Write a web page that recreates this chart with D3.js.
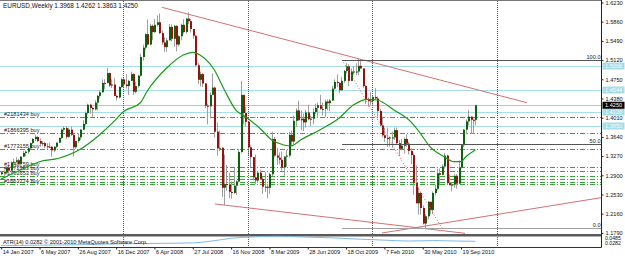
<!DOCTYPE html>
<html>
<head>
<meta charset="utf-8">
<script src="https://cdn.jsdelivr.net/npm/d3@7"></script>
<style>
  body { margin: 0; background: #fff; }
  text { font-family: "Liberation Sans", Arial, sans-serif; }
</style>
</head>
<body>
<svg id="chart" width="625" height="258"></svg>
<script>
// weekly bars, first bar = week of 14 Jan 2007
const firstWeek = new Date(2007, 0, 14);
const opens = [1.2920,1.2960,1.2950,1.3050,1.2990,1.3140,1.3160,1.3190,1.3120,1.3260,
1.3330,1.3355,1.3420,1.3520,1.3600,1.3640,1.3560,1.3510,1.3520,1.3460,
1.3450,1.3450,1.3380,1.3450,1.3530,1.3620,1.3780,1.3810,1.3640,1.3780,
1.3680,1.3440,1.3560,1.3630,1.3780,1.3890,1.4100,1.4260,1.4200,1.4170,
1.4300,1.4430,1.4500,1.4680,1.4680,1.4870,1.4630,1.4650,1.4430,1.4400,
1.4600,1.4750,1.4650,1.4620,1.4720,1.4850,1.4510,1.4620,1.4820,1.5180,
1.5360,1.5620,1.5420,1.5780,1.5660,1.5800,1.5850,1.5640,1.5460,1.5370,
1.5500,1.5760,1.5530,1.5780,1.5420,1.5580,1.5800,1.5660,1.5920,1.5870,
1.5720,1.5590,1.5020,1.4740,1.4850,1.4670,1.4240,1.4230,1.4450,1.4590,
1.3740,1.3420,1.3430,1.2660,1.2730,1.2720,1.2580,1.2560,1.2700,1.2780,
1.3350,1.4450,1.4100,1.3930,1.3440,1.3250,1.2860,1.2800,1.2950,1.2830,
1.2680,1.2680,1.2660,1.2920,1.3600,1.3280,1.3240,1.3200,1.3050,1.3260,
1.3280,1.3680,1.3550,1.3950,1.4150,1.3960,1.3990,1.3920,1.4110,1.3980,
1.3990,1.4120,1.4200,1.4250,1.4180,1.4180,1.4320,1.4290,1.4340,1.4570,
1.4700,1.4680,1.4540,1.4720,1.4910,1.5000,1.4720,1.4900,1.4900,1.4900,
1.5010,1.4960,1.4620,1.4350,1.4340,1.4330,1.4410,1.4380,1.4140,1.3860,
1.3670,1.3620,1.3610,1.3630,1.3630,1.3770,1.3520,1.3410,1.3470,1.3600,
1.3510,1.3370,1.3290,1.2750,1.2360,1.2560,1.2270,1.1970,1.2110,1.2390,
1.2230,1.2560,1.2640,1.2940,1.2910,1.3070,1.3280,1.2750,1.2710,1.2720,
1.2890,1.2740,1.3050,1.3480,1.3780,1.3940,1.4030,1.3970,1.3968];
const highs = [1.2990,1.3000,1.3070,1.3060,1.3170,1.3220,1.3250,1.3220,1.3270,1.3370,
1.3380,1.3430,1.3530,1.3620,1.3680,1.3650,1.3610,1.3560,1.3540,1.3520,
1.3530,1.3460,1.3460,1.3530,1.3630,1.3800,1.3840,1.3850,1.3820,1.3840,
1.3700,1.3560,1.3710,1.3790,1.3960,1.4130,1.4280,1.4280,1.4220,1.4350,
1.4450,1.4530,1.4750,1.4750,1.4967,1.4880,1.4750,1.4780,1.4450,1.4620,
1.4780,1.4790,1.4850,1.4740,1.4900,1.4870,1.4700,1.4840,1.5240,1.5420,
1.5630,1.5905,1.5820,1.5810,1.5910,1.5980,1.6019,1.5690,1.5560,1.5550,
1.5810,1.5810,1.5800,1.5790,1.5600,1.5820,1.5910,1.5930,1.6038,1.5910,
1.5720,1.5600,1.5060,1.4900,1.4870,1.4680,1.4280,1.4500,1.4865,1.4610,
1.3920,1.3760,1.3440,1.3300,1.3100,1.2950,1.2780,1.3050,1.2800,1.3410,
1.4720,1.4450,1.4220,1.3930,1.3480,1.3250,1.3300,1.2980,1.3010,1.2870,
1.2960,1.2730,1.2950,1.3740,1.3640,1.3430,1.3340,1.3360,1.3270,1.3390,
1.3740,1.3760,1.4050,1.4190,1.4340,1.4150,1.4090,1.4160,1.4260,1.4050,
1.4190,1.4280,1.4300,1.4450,1.4300,1.4360,1.4360,1.4370,1.4620,1.4750,
1.4845,1.4700,1.4800,1.4930,1.5060,1.5040,1.4960,1.5010,1.5060,1.5145,
1.5140,1.4960,1.4640,1.4400,1.4510,1.4440,1.4580,1.4420,1.4180,1.4030,
1.3820,1.3820,1.3650,1.3740,1.3820,1.3820,1.3580,1.3600,1.3630,1.3690,
1.3540,1.3420,1.3330,1.3090,1.2670,1.2580,1.2320,1.2150,1.2400,1.2390,
1.2590,1.2720,1.3030,1.3030,1.3110,1.3330,1.3300,1.2910,1.2750,1.2920,
1.2920,1.3190,1.3490,1.3790,1.3980,1.4160,1.4040,1.3990,1.4262];
const lows = [1.2900,1.2880,1.2930,1.2920,1.2940,1.3070,1.3140,1.3080,1.3100,1.3250,
1.3270,1.3310,1.3400,1.3500,1.3560,1.3540,1.3450,1.3460,1.3420,1.3410,
1.3430,1.3260,1.3350,1.3420,1.3520,1.3600,1.3740,1.3600,1.3620,1.3660,
1.3260,1.3410,1.3530,1.3580,1.3770,1.3860,1.4070,1.4090,1.4030,1.4150,
1.4150,1.4380,1.4490,1.4560,1.4670,1.4600,1.4580,1.4430,1.4340,1.4380,
1.4580,1.4600,1.4570,1.4450,1.4720,1.4450,1.4480,1.4580,1.4800,1.5110,
1.5320,1.5400,1.5400,1.5500,1.5640,1.5770,1.5620,1.5410,1.5280,1.5280,
1.5500,1.5480,1.5380,1.5290,1.5380,1.5500,1.5630,1.5630,1.5810,1.5650,
1.5530,1.5000,1.4660,1.4610,1.4600,1.4200,1.3880,1.4000,1.4450,1.3630,
1.3280,1.3370,1.2480,1.2330,1.2600,1.2460,1.2450,1.2540,1.2520,1.2760,
1.3330,1.3880,1.3840,1.3290,1.3050,1.2800,1.2730,1.2750,1.2820,1.2540,
1.2580,1.2455,1.2540,1.2880,1.3250,1.3100,1.3110,1.2990,1.2890,1.3060,
1.3240,1.3460,1.3500,1.3830,1.3960,1.3770,1.3750,1.3820,1.3960,1.3850,
1.3880,1.4080,1.4010,1.4160,1.4050,1.4030,1.4150,1.4140,1.4330,1.4550,
1.4600,1.4480,1.4520,1.4680,1.4860,1.4620,1.4710,1.4840,1.4830,1.4830,
1.4950,1.4580,1.4270,1.4220,1.4260,1.4260,1.4350,1.4030,1.3850,1.3640,
1.3540,1.3440,1.3450,1.3430,1.3580,1.3500,1.3270,1.3380,1.3320,1.3450,
1.3300,1.3110,1.2520,1.2360,1.2140,1.2150,1.1950,1.1876,1.2050,1.2150,
1.2150,1.2510,1.2610,1.2700,1.2900,1.3030,1.2720,1.2710,1.2590,1.2660,
1.2640,1.2730,1.3030,1.3440,1.3690,1.3860,1.3700,1.3700,1.3863];
const closes = [1.2960,1.2950,1.3050,1.2990,1.3140,1.3160,1.3190,1.3120,1.3260,1.3330,
1.3355,1.3420,1.3520,1.3600,1.3640,1.3560,1.3510,1.3520,1.3460,1.3450,
1.3450,1.3380,1.3450,1.3530,1.3620,1.3780,1.3810,1.3640,1.3780,1.3680,
1.3440,1.3560,1.3630,1.3780,1.3890,1.4100,1.4260,1.4200,1.4170,1.4300,
1.4430,1.4500,1.4680,1.4680,1.4870,1.4630,1.4650,1.4430,1.4400,1.4600,
1.4750,1.4650,1.4620,1.4720,1.4850,1.4510,1.4620,1.4820,1.5180,1.5360,
1.5620,1.5420,1.5780,1.5660,1.5800,1.5850,1.5640,1.5460,1.5370,1.5500,
1.5760,1.5530,1.5780,1.5420,1.5580,1.5800,1.5660,1.5920,1.5870,1.5720,
1.5590,1.5020,1.4740,1.4850,1.4670,1.4240,1.4230,1.4450,1.4590,1.3740,
1.3420,1.3430,1.2660,1.2730,1.2720,1.2580,1.2560,1.2700,1.2780,1.3350,
1.4450,1.4100,1.3930,1.3440,1.3250,1.2860,1.2800,1.2950,1.2830,1.2680,
1.2680,1.2660,1.2920,1.3600,1.3280,1.3240,1.3200,1.3050,1.3260,1.3280,
1.3680,1.3550,1.3950,1.4150,1.3960,1.3990,1.3920,1.4110,1.3980,1.3990,
1.4120,1.4200,1.4250,1.4180,1.4180,1.4320,1.4290,1.4340,1.4570,1.4700,
1.4680,1.4540,1.4720,1.4910,1.5000,1.4720,1.4900,1.4900,1.4900,1.5010,
1.4960,1.4620,1.4350,1.4340,1.4330,1.4410,1.4380,1.4140,1.3860,1.3670,
1.3620,1.3610,1.3630,1.3630,1.3770,1.3520,1.3410,1.3470,1.3600,1.3510,
1.3370,1.3290,1.2750,1.2360,1.2560,1.2270,1.1970,1.2110,1.2390,1.2230,
1.2560,1.2640,1.2940,1.2910,1.3070,1.3280,1.2750,1.2710,1.2720,1.2890,
1.2740,1.3050,1.3480,1.3780,1.3940,1.4030,1.3970,1.3968,1.4250];

// moving average: bar index / value
const maIdx = [0,8,16,24,33,41,47,51,58,61,69,76,80,83,87,89,93,98,102,108,113,118,121,125,133,141,147,153,157,164,171,175,179,185,189,192,194,198];
const maVal = [1.2829,1.3002,1.3162,1.3228,1.3401,1.3677,1.3933,1.4126,1.4293,1.4525,1.4962,1.5218,1.5270,1.5218,1.5058,1.4929,1.4563,1.4158,1.4029,1.3806,1.3580,1.3484,1.3465,1.3580,1.3773,1.3998,1.4255,1.4365,1.4351,1.4158,1.3933,1.3709,1.3451,1.3258,1.3162,1.3162,1.3258,1.3388];

// lower window line (ATR 14)
const atrIdx = [0,16,33,50,67,80,88,96,105,115,125,138,150,160,170,180,190,198];
const atrVal = [0.0175,0.0200,0.0225,0.0275,0.0300,0.0325,0.0425,0.0575,0.0650,0.0685,0.0650,0.0600,0.0525,0.0475,0.0425,0.0450,0.0425,0.0410];

const priceTicks = [1.6230,1.5860,1.5490,1.5120,1.4750,1.4380,1.4010,1.3640,1.3270,1.2900,1.2530,1.2160,1.1790];
const dateTicks = [0,16,32,48,64,80,96,112,128,144,160,176,192];
const separatorIdx = [51,103,155,207];

const cyanLevels = [1.5006,1.4544,1.4120,1.3850];
const orderLevels = [1.4029,1.3709,1.3401,1.3066,1.2989,1.2886,1.2834,1.2777,1.2727];
const orderNames = ["#2181434 buy","#1866395 buy","#1773155 buy","#1748759 buy","#1772353 buy","#1702653 buy","","","#1663774 buy"];
const bid = 1.4250;

// trend lines: [i1, p1, i2, p2]
const trendLines = [
  [67.1, 1.6137, 219.5, 1.4299],
  [89.3, 1.2347, 193.7, 1.1782],
  [159.0, 1.1788, 250.9, 1.2472]
];
// fibonacci anchors
const fiboFrom = [142.3, 1.5125];
const fiboTo = [184.1, 1.1876];
const fiboLevels = [0, 0.5, 1];

const svg = d3.select("#chart");
const axisX = 601.5;
const mainTop = 1, mainBottom = 234, subTop = 237, subBottom = 247.5;

const x = d3.scaleLinear().domain([0, 198]).range([1.2, 1.2 + 198 * 2.395]);
const y = d3.scaleLinear().domain([1.1790, 1.6230]).range([232.9, 2.5]);
const ySub = d3.scaleLinear().domain([0.0100, 0.0700]).range([subBottom - 0.5, subTop - 1]);

svg.append("rect").attr("width", 625).attr("height", 258).attr("fill", "#fff");

svg.append("defs").append("clipPath").attr("id", "main")
  .append("rect").attr("x", 0).attr("y", mainTop).attr("width", axisX).attr("height", mainBottom - mainTop);

const main = svg.append("g").attr("clip-path", "url(#main)");

// period separators
svg.append("g").selectAll("line").data(separatorIdx).join("line")
  .attr("x1", d => Math.round(x(d)) + 0.5).attr("x2", d => Math.round(x(d)) + 0.5)
  .attr("y1", mainTop).attr("y2", subBottom)
  .attr("stroke", "#555").attr("stroke-dasharray", "1,1");

// horizontal lines
main.selectAll(".cyan").data(cyanLevels).join("line")
  .attr("x1", 0).attr("x2", axisX)
  .attr("y1", d => Math.round(y(d)) + 0.5).attr("y2", d => Math.round(y(d)) + 0.5)
  .attr("stroke", "#a6dde6");
main.append("line").attr("x1", 0).attr("x2", axisX)
  .attr("y1", Math.round(y(bid)) + 0.5).attr("y2", Math.round(y(bid)) + 0.5)
  .attr("stroke", "#c8c0c0");
main.selectAll(".order").data(orderLevels).join("line")
  .attr("x1", 0).attr("x2", axisX)
  .attr("y1", d => Math.round(y(d)) + 0.5).attr("y2", d => Math.round(y(d)) + 0.5)
  .attr("stroke", "#3aa23a").attr("stroke-dasharray", "5,2,1,2");
main.selectAll(".olabel").data(orderLevels).join("text")
  .attr("x", 4).attr("y", d => Math.round(y(d)) - 1)
  .attr("font-size", 5.6).attr("fill", "#222")
  .text((d, i) => orderNames[i]);

// candles
const bars = d3.range(opens.length);
main.append("g").selectAll("line").data(bars).join("line")
  .attr("x1", i => Math.round(x(i)) + 0.5).attr("x2", i => Math.round(x(i)) + 0.5)
  .attr("y1", i => y(highs[i])).attr("y2", i => y(lows[i]))
  .attr("stroke", "#a0a0a0");
main.append("g").selectAll("rect").data(bars).join("rect")
  .attr("x", i => Math.round(x(i)))
  .attr("width", 2)
  .attr("y", i => y(Math.max(opens[i], closes[i])))
  .attr("height", i => Math.max(1, Math.abs(y(opens[i]) - y(closes[i]))))
  .attr("fill", i => closes[i] >= opens[i] ? "#0b640b" : "#9a1010");

// moving average
main.append("path")
  .datum(maIdx.map((d, k) => [d, maVal[k]]))
  .attr("fill", "none").attr("stroke", "#1a9a1a").attr("stroke-width", 1.2)
  .attr("d", d3.line().x(d => x(d[0])).y(d => y(d[1])).curve(d3.curveMonotoneX));

// trend lines
main.selectAll(".trend").data(trendLines).join("line")
  .attr("x1", d => x(d[0])).attr("y1", d => y(d[1]))
  .attr("x2", d => x(d[2])).attr("y2", d => y(d[3]))
  .attr("stroke", "#d07272");

// fibonacci
main.append("line")
  .attr("x1", x(fiboFrom[0])).attr("y1", y(fiboFrom[1]))
  .attr("x2", x(fiboTo[0])).attr("y2", y(fiboTo[1]))
  .attr("stroke", "#e06060").attr("stroke-dasharray", "1,2");
fiboLevels.forEach(lv => {
  const p = fiboTo[1] + (fiboFrom[1] - fiboTo[1]) * lv;
  const yy = Math.round(y(p)) + 0.5;
  main.append("line").attr("x1", x(fiboFrom[0])).attr("x2", axisX)
    .attr("y1", yy).attr("y2", yy)
    .attr("stroke", lv === 0 ? "#a0a0a0" : "#555");
  svg.append("text").attr("x", axisX - 1).attr("y", yy - 2)
    .attr("text-anchor", "end").attr("font-size", 5.6).attr("fill", "#222")
    .text(d3.format(".1f")(lv * 100));
});

// frame
svg.append("line").attr("x1", 0).attr("x2", axisX).attr("y1", 0.5).attr("y2", 0.5).attr("stroke", "#777");
svg.append("rect").attr("x", 0).attr("y", mainBottom).attr("width", axisX).attr("height", 2.5).attr("fill", "#5a5a5a");
svg.append("line").attr("x1", 0).attr("x2", axisX).attr("y1", subBottom).attr("y2", subBottom).attr("stroke", "#333");
svg.append("line").attr("x1", axisX).attr("x2", axisX).attr("y1", 0).attr("y2", subBottom).attr("stroke", "#222");

// lower window
svg.append("path")
  .datum(atrIdx.map((d, k) => [d, atrVal[k]]))
  .attr("fill", "none").attr("stroke", "#7fb8ee")
  .attr("d", d3.line().x(d => x(d[0])).y(d => ySub(d[1])).curve(d3.curveMonotoneX));
svg.append("text").attr("x", 3).attr("y", 243.5).attr("font-size", 5.6).attr("fill", "#111").text("ATR(14) 0.0282");
svg.append("text").attr("x", 44).attr("y", 243.5).attr("font-size", 5.6).attr("fill", "#111").text("© 2001-2010 MetaQuotes Software Corp.");
svg.append("text").attr("x", 605).attr("y", 240).attr("font-size", 5.2).attr("fill", "#111").text("0.0485");
svg.append("text").attr("x", 605).attr("y", 244.5).attr("font-size", 5.2).attr("fill", "#111").text("0.0282");

// price axis
const yAxis = svg.append("g").attr("transform", `translate(${axisX},0)`)
  .call(d3.axisRight(y).tickValues(priceTicks).tickFormat(d3.format(".4f")).tickSize(2).tickPadding(2));
yAxis.select(".domain").remove();
yAxis.selectAll("text").attr("font-size", 5.6).attr("font-family", "Liberation Sans, Arial, sans-serif").attr("fill", "#111");
yAxis.selectAll("line").attr("stroke", "#222");

// price labels of horizontal lines
const tags = svg.append("g");
cyanLevels.forEach(p => {
  tags.append("rect").attr("x", axisX + 1).attr("y", y(p) - 3.5).attr("width", 22).attr("height", 7).attr("fill", "#a6dde6");
  tags.append("text").attr("x", 605).attr("y", y(p) + 2).attr("font-size", 5.6).attr("fill", "#f4fbfc").text(d3.format(".4f")(p));
});
tags.append("rect").attr("x", axisX + 1).attr("y", y(bid) - 3.5).attr("width", 22).attr("height", 7).attr("fill", "#000");
tags.append("text").attr("x", 605).attr("y", y(bid) + 2).attr("font-size", 5.6).attr("fill", "#fff").text(d3.format(".4f")(bid));

// time axis
const fmt = d3.timeFormat("%-d %b %Y");
const xAxis = svg.append("g").attr("transform", `translate(0,${subBottom})`)
  .call(d3.axisBottom(x).tickValues(dateTicks).tickSize(2).tickPadding(1)
    .tickFormat(i => fmt(d3.timeWeek.offset(firstWeek, i))));
xAxis.select(".domain").remove();
xAxis.selectAll("text").attr("font-size", 5.6).attr("text-anchor", "start").attr("dx", 1)
  .attr("font-family", "Liberation Sans, Arial, sans-serif").attr("fill", "#111");
xAxis.selectAll("line").attr("stroke", "#222");

// title
svg.append("text").attr("x", 3).attr("y", 8).attr("font-size", 6.4).attr("fill", "#111")
  .text("EURUSD,Weekly  1.3968 1.4262 1.3863 1.4250");
</script>
</body>
</html>
